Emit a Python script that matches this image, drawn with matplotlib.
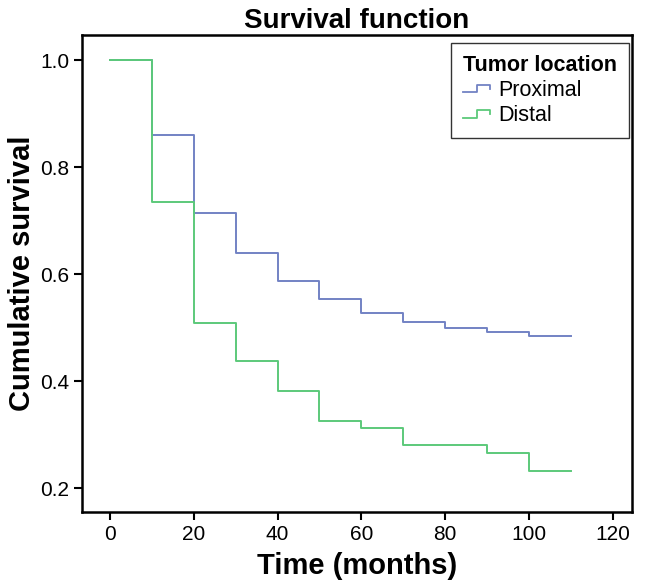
import numpy as np
import matplotlib
matplotlib.use("Agg")
import matplotlib.pyplot as plt
from matplotlib.legend_handler import HandlerBase
from matplotlib.lines import Line2D

plt.rcParams['font.family'] = ['Liberation Sans', 'DejaVu Sans']

# step times (months) and cumulative survival after each step
prox_t = [0, 10, 20, 30, 40, 50, 60, 70, 80, 90, 100, 110]
prox_s = [1.0, 0.860, 0.715, 0.640, 0.588, 0.553, 0.528, 0.510, 0.500, 0.492, 0.484, 0.484]
dist_t = [0, 10, 20, 30, 40, 50, 60, 70, 90, 100, 110]
dist_s = [1.0, 0.736, 0.508, 0.437, 0.382, 0.325, 0.312, 0.281, 0.265, 0.232, 0.232]

groups = ['Proximal', 'Distal']
colors = ['#7282c4', '#5cc97a']


class StepHandler(HandlerBase):
    # small step glyph like the SPSS legend
    def create_artists(self, legend, orig_handle, xdescent, ydescent,
                       width, height, fontsize, trans):
        x0, w = -xdescent, width
        y0, h = -ydescent, height
        xs = [x0, x0 + 0.5 * w, x0 + 0.5 * w, x0 + w, x0 + w]
        ys = [y0 + 0.25 * h, y0 + 0.25 * h, y0 + 0.75 * h, y0 + 0.75 * h, y0 + 0.5 * h]
        ln = Line2D(xs, ys, color=orig_handle.get_color(), lw=1.3, transform=trans)
        return [ln]


fig = plt.figure(figsize=(6.46, 5.88), dpi=100)
ax = fig.add_axes([0.127, 0.129, 0.851, 0.811])

h1, = ax.step(prox_t, prox_s, where='post', color=colors[0], lw=1.4, label=groups[0])
h2, = ax.step(dist_t, dist_s, where='post', color=colors[1], lw=1.4, label=groups[1])

ax.set_xlim(-6.7, 124.6)
ax.set_ylim(0.155, 1.047)
ax.set_xticks(np.arange(0, 121, 20))
ax.set_yticks([0.2, 0.4, 0.6, 0.8, 1.0])
ax.set_yticklabels(['0.2', '0.4', '0.6', '0.8', '1.0'])
ax.tick_params(direction='out', length=6, width=1.5, labelsize=15, pad=3)
for sp in ax.spines.values():
    sp.set_linewidth(1.8)

ax.set_xlabel('Time (months)', fontsize=21, fontweight='bold', labelpad=6)
ax.set_ylabel('Cumulative survival', fontsize=21, fontweight='bold', labelpad=3)
ax.set_title('Survival function', fontsize=20, fontweight='bold', pad=5)

leg = ax.legend(handles=[h1, h2], title='Tumor location', loc='upper right',
                bbox_to_anchor=(0.995, 0.984), borderaxespad=0,
                fontsize=15.5, title_fontproperties={'weight': 'bold', 'size': 15.5},
                handler_map={Line2D: StepHandler()}, handlelength=1.25,
                handletextpad=0.4, frameon=True, fancybox=False,
                borderpad=0.55, alignment='left', labelspacing=0.2)
leg.get_frame().set_edgecolor('black')
leg.get_frame().set_linewidth(1.0)

fig.savefig('out.png', dpi=100)
